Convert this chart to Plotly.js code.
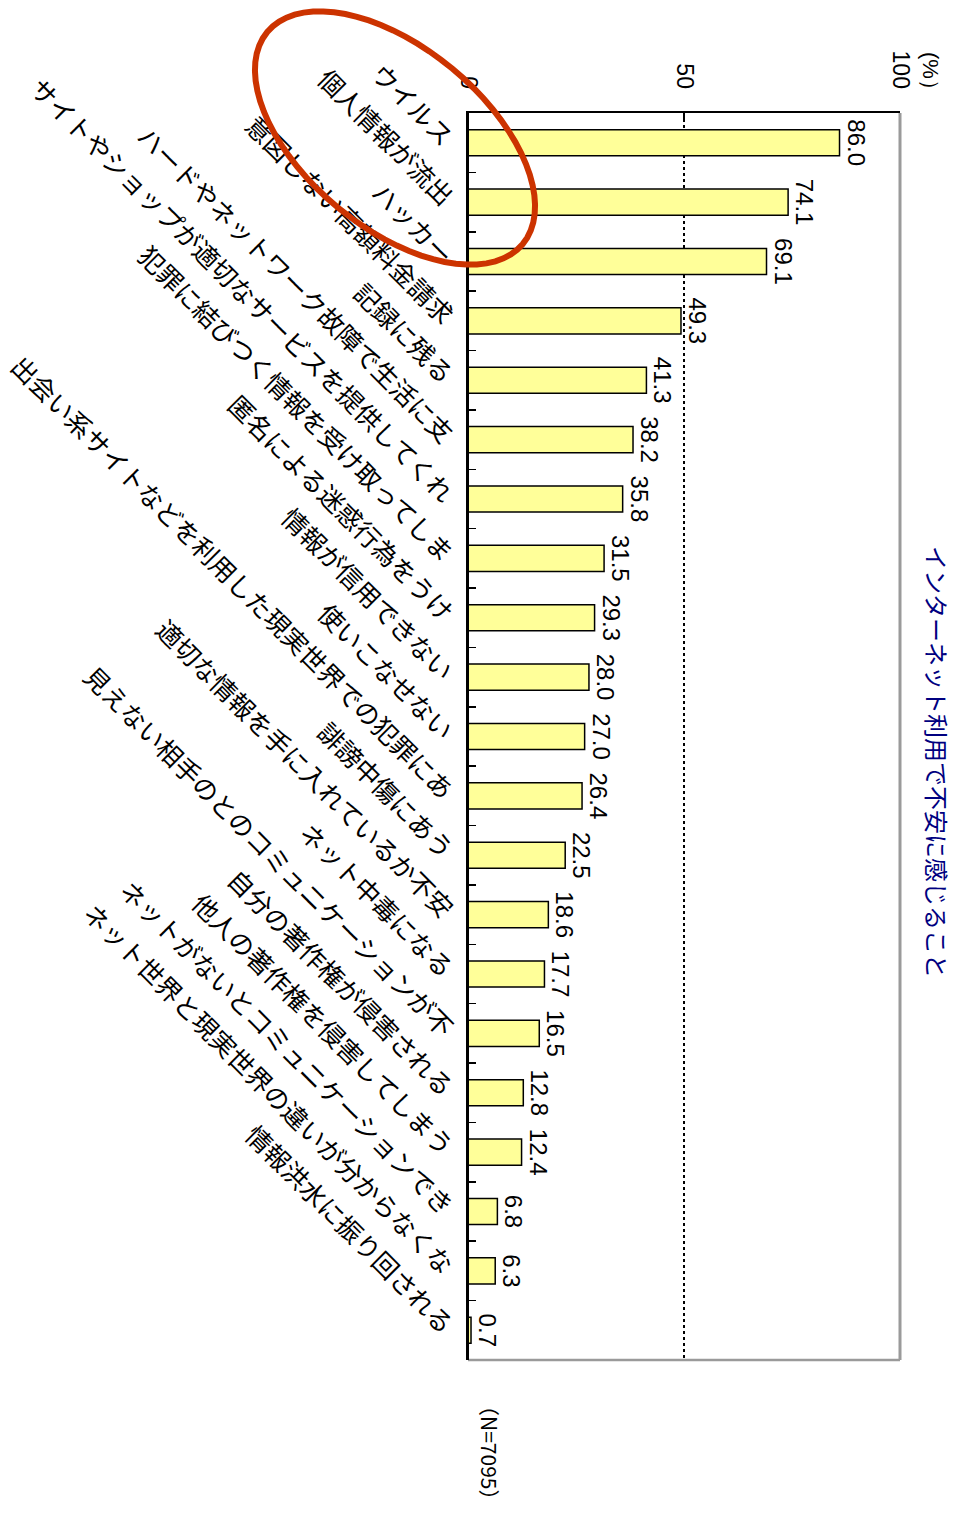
<!DOCTYPE html>
<html>
<head>
<meta charset="utf-8">
<script src="https://cdn.plot.ly/plotly-3.0.1.min.js"></script>
<style>html,body{margin:0;padding:0;background:#fff;}</style>
</head>
<body>
<div id="chart" style="width:955px;height:1517px;"></div>
<script>
const categories = [
  "ウイルス",
  "個人情報が流出",
  "ハッカー",
  "意図しない高額料金請求",
  "記録に残る",
  "ハードやネットワーク故障で生活に支",
  "サイトやショップが適切なサービスを提供してくれ",
  "犯罪に結びつく情報を受け取ってしま",
  "匿名による迷惑行為をうけ",
  "情報が信用できない",
  "使いこなせない",
  "出会い系サイトなどを利用した現実世界での犯罪にあ",
  "誹謗中傷にあう",
  "適切な情報を手に入れているか不安",
  "ネット中毒になる",
  "見えない相手のとのコミュニケーションが不",
  "自分の著作権が侵害される",
  "他人の著作権を侵害してしまう",
  "ネットがないとコミュニケーションでき",
  "ネット世界と現実世界の違いが分からなくな",
  "情報洪水に振り回される"
];
const values = [86.0, 74.1, 69.1, 49.3, 41.3, 38.2, 35.8, 31.5, 29.3, 28.0, 27.0, 26.4, 22.5, 18.6, 17.7, 16.5, 12.8, 12.4, 6.8, 6.3, 0.7];
const valueTicks = [0, 50, 100];
const titleText = "インターネット利用で不安に感じること";
const unitLabel = "(%）";
const sampleLabel = "（N=7095）";

// layout geometry (pixels)
const W = 955, H = 1517;
const mL = 468, mR = 55, mT = 113, mB = 157;
const pw = W - mL - mR, ph = H - mT - mB;
const px = x => (x - mL) / pw;
const py = y => 1 - (y - mT) / ph;

// hand-drawn style ellipse around the top three labels (decoration)
function ellipsePath(cx, cy, a, b, thetaDeg) {
  const t = thetaDeg * Math.PI / 180;
  let d = "";
  const n = 72;
  for (let i = 0; i <= n; i++) {
    const u = 2 * Math.PI * i / n;
    const ex = a * Math.cos(u), ey = b * Math.sin(u);
    const X = cx + ex * Math.cos(t) - ey * Math.sin(t);
    const Y = cy + ex * Math.sin(t) + ey * Math.cos(t);
    d += (i === 0 ? "M" : "L") + px(X).toFixed(5) + "," + py(Y).toFixed(5);
  }
  return d + "Z";
}

const trace = {
  type: "bar",
  orientation: "h",
  y: categories,
  x: values,
  width: 0.44,
  marker: { color: "#FFFF99", line: { color: "#000000", width: 1.5 } },
  text: values.map(v => v.toFixed(1)),
  textposition: "outside",
  textangle: 90,
  constraintext: "none",
  cliponaxis: false,
  textfont: { family: "Liberation Sans, Arial, sans-serif", size: 24, color: "#000" },
  hoverinfo: "none"
};

const layout = {
  width: W, height: H,
  margin: { l: mL, r: mR, t: mT, b: mB, pad: 0 },
  paper_bgcolor: "#fff",
  plot_bgcolor: "#fff",
  showlegend: false,
  font: { family: "Noto Sans CJK JP, sans-serif", color: "#000" },
  xaxis: {
    side: "top",
    range: [0, 100],
    tickvals: valueTicks,
    ticktext: valueTicks.map(String),
    tickangle: 90,
    ticks: "inside",
    ticklen: 6,
    tickcolor: "#000",
    tickwidth: 1.5,
    ticklabelstandoff: 14,
    tickfont: { family: "Liberation Sans, Arial, sans-serif", size: 23, color: "#000" },
    showline: true, linecolor: "#000", linewidth: 2,
    showgrid: true, gridcolor: "#000", gridwidth: 1.2, griddash: "dot",
    zeroline: false,
    fixedrange: true
  },
  yaxis: {
    type: "category",
    autorange: "reversed",
    tickangle: 45,
    ticks: "inside",
    tickson: "boundaries",
    ticklen: 8,
    tickcolor: "#000",
    tickwidth: 1.5,
    ticklabelstandoff: 10,
    tickfont: { family: "Noto Sans CJK JP, sans-serif", size: 25.5, color: "#000" },
    showline: true, linecolor: "#000", linewidth: 2,
    showgrid: false,
    zeroline: false,
    fixedrange: true
  },
  shapes: [
    { type: "line", xref: "paper", yref: "paper", x0: 1, x1: 1, y0: 0, y1: 1,
      line: { color: "#9a9a9a", width: 3 }, layer: "above" },
    { type: "line", xref: "paper", yref: "paper", x0: 0, x1: 1, y0: 0, y1: 0,
      line: { color: "#9a9a9a", width: 2.5 }, layer: "above" },
    { type: "line", xref: "paper", yref: "paper", x0: 0, x1: 0, y0: 0, y1: 1,
      line: { color: "#000", width: 2 }, layer: "above" },
    { type: "path", xref: "paper", yref: "paper",
      path: ellipsePath(395, 138, 166, 90, 39.7),
      line: { color: "#CC3300", width: 6 }, layer: "above" }
  ],
  annotations: [
    { xref: "paper", yref: "paper", x: px(931), y: py(76), text: unitLabel,
      xanchor: "center", yanchor: "middle",
      textangle: 90, showarrow: false,
      font: { family: "Liberation Sans, Arial, sans-serif", size: 22, color: "#000" } },
    { xref: "paper", yref: "paper", x: px(490), y: py(1452), text: sampleLabel,
      xanchor: "center", yanchor: "middle",
      textangle: 90, showarrow: false,
      font: { family: "Noto Sans CJK JP, sans-serif", size: 21, color: "#000" } },
    { xref: "paper", yref: "paper", x: px(938), y: py(762), text: titleText,
      xanchor: "center", yanchor: "middle",
      textangle: 90, showarrow: false,
      font: { family: "Noto Sans CJK JP, sans-serif", size: 24, color: "#000080" } }
  ]
};

Plotly.newPlot("chart", [trace], layout, { displayModeBar: false, staticPlot: true });
</script>
</body>
</html>
